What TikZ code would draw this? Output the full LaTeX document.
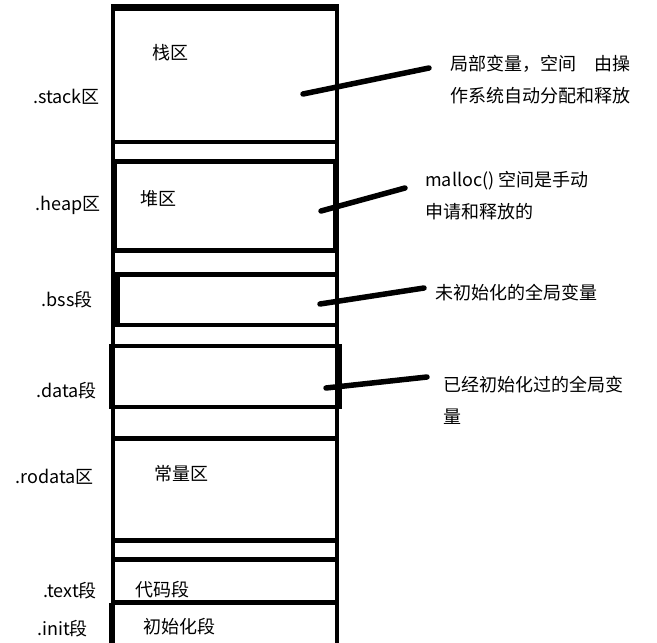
\documentclass[tikz,border=0pt]{standalone}
\usepackage{fontspec}
\setmainfont{Noto Sans CJK SC}
\begin{document}
\begin{tikzpicture}[x=1pt,y=-1pt,
  wall/.style={line width=4.5pt},
  lbl/.style={inner sep=0pt, font=\fontsize{18}{32}\selectfont},
  note/.style={lbl, align=left, anchor=west},
  side/.style={lbl, anchor=east},
  pointer/.style={line width=5.5pt, line cap=round}]
\useasboundingbox (0,0) rectangle (657,643);
\fill[white] (0,0) rectangle (657,643);
% outer walls
\draw[wall] (113,5) -- (113,643);
\draw[wall] (337,5) -- (337,643);
\draw[line width=7pt] (110.75,7.5) -- (339.25,7.5);
% stack
\draw[wall] (113,142) -- (337,142);
% heap
\draw[wall] (115,161.5) rectangle (335,250.5);
% bss
\draw[wall] (113,274.5) -- (337,274.5);
\draw[wall] (113,325) -- (337,325);
\draw[line width=5pt] (117.5,274.5) -- (117.5,325);
% data
\draw[wall] (111.5,346) rectangle (340,407);
% rodata
\draw[wall] (113,438.5) -- (337,438.5);
\draw[wall] (113,540.5) -- (337,540.5);
% text
\draw[wall] (113,559.5) -- (337,559.5);
\draw[wall] (111.5,602.5) -- (337,602.5);
% init
\draw[wall] (111.5,602.5) -- (111.5,643);

% box labels
\node[lbl] (stackin) at (170,53) {栈区};
\node[lbl] (heapin) at (158,198.5) {堆区};
\node[lbl] (rodatain) at (181,474) {常量区};
\node[lbl] (textin) at (162,590) {代码段};
\node[lbl] (initin) at (179,627) {初始化段};

% side labels
\node[side] (stacks) at (100,97) {.stack区};
\node[side] (heaps) at (101,205) {.heap区};
\node[side] (bsss) at (93,300) {.bss段};
\node[side] (datas) at (97,391) {.data段};
\node[side] (rodatas) at (94,477) {.rodata区};
\node[side] (texts) at (97,591) {.text段};
\node[side] (inits) at (88,629) {.init段};

% notes
\node[note] (n1) at (450,80) {局部变量，空间\hspace{1em}由操\\作系统自动分配和释放};
\node[note] (n2) at (425,195.5) {malloc() 空间是手动\\申请和释放的};
\node[note] (n3) at (435,292.5) {未初始化的全局变量};
\node[note] (n4) at (443,400.5) {已经初始化过的全局变\\量};

% pointers
\coordinate (p1a) at (303,94);  \coordinate (p1b) at (429,68);
\coordinate (p2a) at (321,211); \coordinate (p2b) at (405,188);
\coordinate (p3a) at (320,304); \coordinate (p3b) at (424,288);
\coordinate (p4a) at (326,388); \coordinate (p4b) at (427,377);
\draw[pointer] (p1a) -- (p1b);
\draw[pointer] (p2a) -- (p2b);
\draw[pointer] (p3a) -- (p3b);
\draw[pointer] (p4a) -- (p4b);
\end{tikzpicture}
\end{document}
